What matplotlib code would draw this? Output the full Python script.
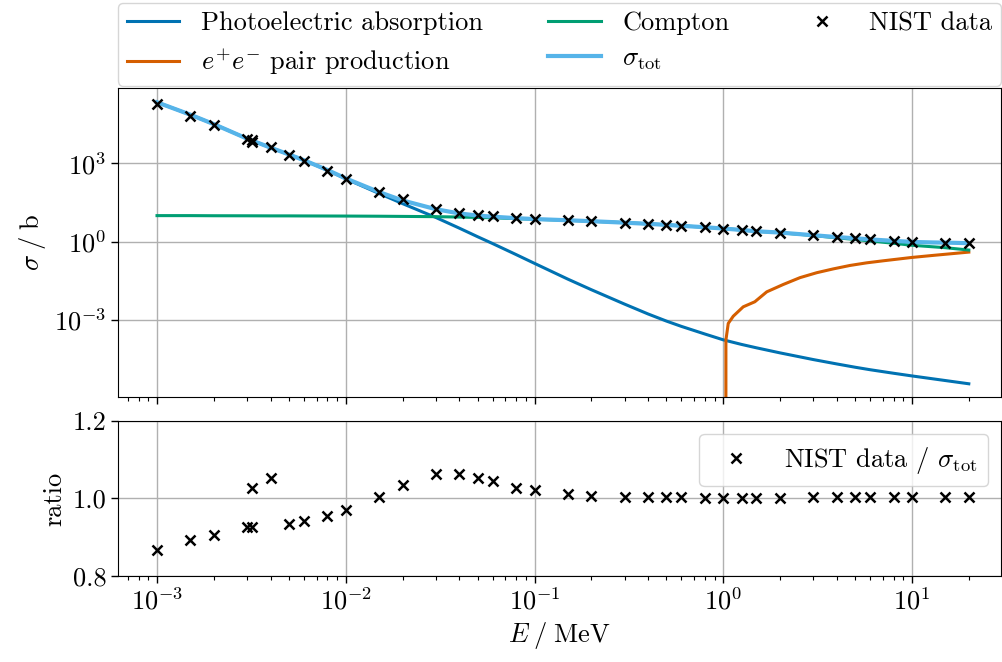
import numpy as np
import matplotlib
matplotlib.use("Agg")
import matplotlib.pyplot as plt
from matplotlib.ticker import FixedLocator, NullLocator, FormatStrFormatter, LogFormatterMathtext

FS = 19
plt.rcParams.update({
    "font.family": "serif",
    "font.serif": ["cmr10"],
    "mathtext.fontset": "cm",
    "axes.formatter.use_mathtext": True,
    "axes.unicode_minus": False,
    "font.size": FS,
})

# ---------------- data ----------------
# model curves, energies in MeV, cross sections in barn
curve_E = [1e-3, 1.5e-3, 2e-3, 3e-3, 4e-3, 5e-3, 6e-3, 8e-3,
           1e-2, 1.5e-2, 2e-2, 3e-2, 4e-2, 5e-2, 6e-2, 8e-2,
           0.1, 0.15, 0.2, 0.3, 0.4, 0.5, 0.6, 0.8,
           1.0, 1.25, 1.5, 2.0, 3.0, 4.0, 5.0, 6.0, 8.0,
           10.0, 15.0, 20.0]
photo_b = [2.2e5, 7.4e4, 3.2e4, 8.9e3, 4.0e3, 2.2e3, 1.32e3, 550,
           257, 70.8, 28.8, 8.5, 3.3, 1.55, 0.85, 0.32,
           0.148, 0.037, 0.0145, 4.07e-3, 1.70e-3, 9.1e-4, 5.7e-4, 2.9e-4,
           1.74e-4, 1.16e-4, 8.6e-5, 5.5e-5, 3.05e-5, 2.07e-5, 1.55e-5, 1.245e-5, 9.1e-6,
           7.2e-6, 4.8e-6, 3.6e-6]
compton_b = [10.0, 10.0, 9.89, 9.84, 9.77, 9.77, 9.72, 9.66,
             9.62, 9.48, 9.33, 9.12, 8.81, 8.51, 8.26, 7.67,
             7.24, 6.61, 6.10, 5.37, 4.84, 4.42, 4.07, 3.59,
             3.20, 2.82, 2.51, 2.22, 1.72, 1.41, 1.22, 1.07, 0.87,
             0.73, 0.59, 0.48]
pair_E = [1.022, 1.033, 1.063, 1.13, 1.276, 1.47, 1.70, 2.08, 2.55,
          3.13, 3.83, 4.69, 5.75, 7.05, 10.0, 13.0, 20.0]
pair_b = [0.0, 1.7e-4, 7.4e-4, 1.4e-3, 3.2e-3, 5.0e-3, 0.012, 0.023, 0.042,
          0.065, 0.091, 0.123, 0.155, 0.186, 0.25, 0.30, 0.40]

# NIST data points
nist_E = [1e-3, 1.5e-3, 2e-3, 3e-3, 3.2029e-3, 3.2029e-3, 4e-3, 5e-3, 6e-3, 8e-3,
          1e-2, 1.5e-2, 2e-2, 3e-2, 4e-2, 5e-2, 6e-2, 8e-2,
          0.1, 0.15, 0.2, 0.3, 0.4, 0.5, 0.6, 0.8,
          1.0, 1.25, 1.5, 2.0, 3.0, 4.0, 5.0, 6.0, 8.0,
          10.0, 15.0, 20.0]
nist_b = [1.9e5, 6.6e4, 2.9e4, 8.3e3, 6.9e3, 7.6e3, 4.2e3, 2.1e3, 1.23e3, 525,
          263, 77.6, 41.7, 17.8, 12.9, 10.5, 9.5, 8.1,
          7.6, 6.8, 6.1, 5.4, 4.85, 4.42, 4.07, 3.6,
          3.2, 2.82, 2.52, 2.24, 1.78, 1.51, 1.35, 1.23, 1.07,
          0.98, 0.91, 0.87]
nist_ratio = [0.867, 0.892, 0.906, 0.926, 0.927, 1.027, 1.053, 0.933, 0.942, 0.956,
              0.971, 1.004, 1.035, 1.064, 1.063, 1.052, 1.044, 1.028,
              1.021, 1.011, 1.007, 1.003, 1.003, 1.003, 1.003, 1.002,
              1.002, 1.002, 1.002, 1.002, 1.003, 1.003, 1.003, 1.003, 1.003,
              1.003, 1.004, 1.004]

# ---------------- total cross section on a common grid ----------------
E_all = np.unique(np.concatenate([curve_E, pair_E]))
lE = np.log10(E_all)
photo_all = 10 ** np.interp(lE, np.log10(curve_E), np.log10(photo_b))
compton_all = 10 ** np.interp(lE, np.log10(curve_E), np.log10(compton_b))
pair_all = np.interp(lE, np.log10(pair_E), pair_b, left=0.0)
tot_all = photo_all + compton_all + pair_all

# ---------------- figure ----------------
W, H = 1003, 662
fig = plt.figure(figsize=(W / 100, H / 100), dpi=100)
L, R = 118, 1001
ax1 = fig.add_axes([L / W, 1 - 397 / H, (R - L) / W, (397 - 88) / H])
ax2 = fig.add_axes([L / W, 1 - 576 / H, (R - L) / W, (576 - 421) / H], sharex=ax1)

c_photo, c_pair, c_comp, c_tot = "#0072B2", "#D55E00", "#009E73", "#56B4E9"

ax1.plot(curve_E, photo_b, color=c_photo, lw=2.2, label="Photoelectric absorption")
ax1.plot(pair_E, pair_b, color=c_pair, lw=2.2, label=r"$e^{+}e^{-}$ pair production")
ax1.plot(curve_E, compton_b, color=c_comp, lw=2.2, label="Compton")
ax1.plot(E_all, tot_all, color=c_tot, lw=3.0, label=r"$\sigma_\mathrm{tot}$")
ax1.plot(nist_E, nist_b, ls="none", marker="x", color="black", ms=7.5, mew=1.8,
         label="NIST data")

ax1.set_xscale("log")
ax1.set_yscale("log")
ax1.set_xlim(10 ** -3.2067, 10 ** 1.4716)
ax1.set_ylim(10 ** -5.95, 10 ** 5.89)
ax1.yaxis.set_major_locator(FixedLocator([1e-3, 1e0, 1e3]))
ax1.yaxis.set_major_formatter(LogFormatterMathtext())
ax1.yaxis.set_minor_locator(NullLocator())
ax1.set_ylabel(r"$\sigma\;/\;\mathrm{b}$")
ax1.grid(True, which="major", color="#b0b0b0", lw=1.0)
plt.setp(ax1.get_xticklabels(), visible=False)

ax1.legend(loc="lower left", bbox_to_anchor=(0.0, 1.008, 1.0, 0.2), mode="expand",
           ncol=3, borderaxespad=0.0, fontsize=FS, borderpad=0.33, labelspacing=0.42)

ax2.plot(nist_E, nist_ratio, ls="none", marker="x", color="black", ms=7.5, mew=1.8,
         label=r"NIST data / $\sigma_\mathrm{tot}$")
ax2.set_ylim(0.8, 1.2)
ax2.yaxis.set_major_locator(FixedLocator([0.8, 1.0, 1.2]))
ax2.yaxis.set_major_formatter(FormatStrFormatter("%.1f"))
ax2.set_ylabel("ratio")
ax2.set_xlabel(r"$E\;/\;\mathrm{MeV}$")
ax2.grid(True, which="major", color="#b0b0b0", lw=1.0)
ax2.legend(loc="upper right", fontsize=FS)

for ax in (ax1, ax2):
    ax.tick_params(which="major", length=5, width=1.0)
    ax.tick_params(which="minor", length=3, width=0.8)

fig.savefig("out.png", dpi=100)
